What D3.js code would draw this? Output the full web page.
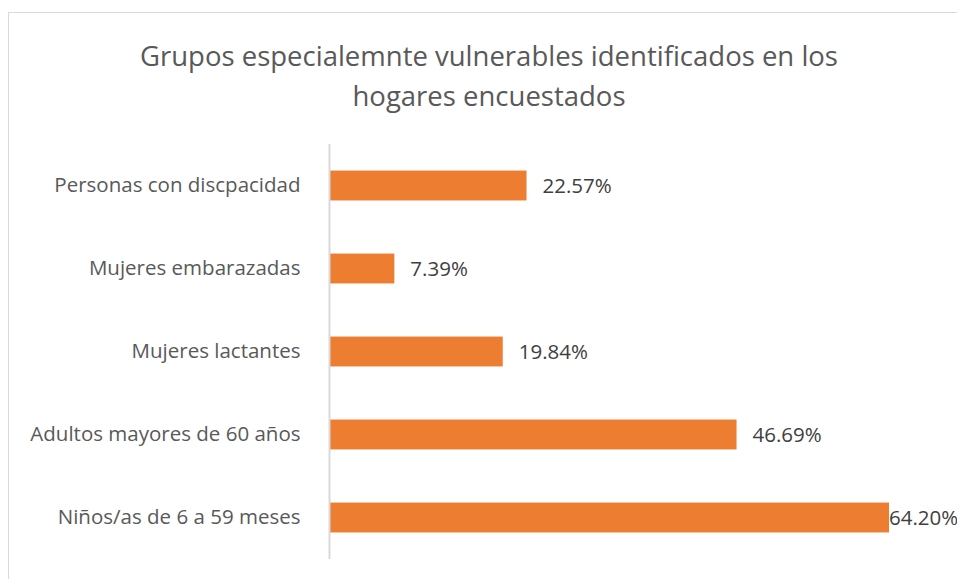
<!DOCTYPE html>
<html>
<head>
<meta charset="utf-8">
<script src="https://cdn.jsdelivr.net/npm/d3@7"></script>
<style>
  body { margin: 0; background: #fff; }
  svg { display: block; font-family: "Open Sans", sans-serif; }
</style>
</head>
<body>
<svg width="957" height="579"></svg>
<script>
// chart data, top to bottom
var categories = ['Personas con discpacidad', 'Mujeres embarazadas', 'Mujeres lactantes',
    'Adultos mayores de 60 años', 'Niños/as de 6 a 59 meses'];
var values = [22.57, 7.39, 19.84, 46.69, 64.20];
var titleLines = ['Grupos especialemnte vulnerables identificados en los', 'hogares encuestados'];

var data = categories.map(function(c, i) { return {cat: c, val: values[i]}; });

var svg = d3.select('svg');
var svgWidth = +svg.attr('width');
var svgHeight = +svg.attr('height');

// chart area border (runs off the right / bottom edge)
svg.append('rect')
    .attr('x', 8.5).attr('y', 12.5)
    .attr('width', svgWidth + 20).attr('height', svgHeight + 20)
    .attr('fill', 'none')
    .attr('stroke', '#d9d9d9')
    .attr('stroke-width', 1);

// title
svg.append('text')
    .attr('text-anchor', 'middle')
    .style('font-size', '27.5px')
    .attr('fill', '#595959')
    .selectAll('tspan')
    .data(titleLines)
    .enter().append('tspan')
    .attr('x', 489)
    .attr('y', function(d, i) { return 66 + i * 40; })
    .text(function(d) { return d; });

var padding = {t: 144, l: 330, b: 20};
var plotHeight = 415;

var xScale = d3.scaleLinear()
    .domain([0, 64.20])
    .range([padding.l, 889]);

var yScale = d3.scaleBand()
    .domain(categories)
    .range([padding.t, padding.t + plotHeight])
    .paddingInner(0.64)
    .paddingOuter(0.32);

// bars
svg.selectAll('.bar')
    .data(data)
    .enter().append('rect')
    .attr('class', 'bar')
    .attr('x', xScale(0))
    .attr('y', function(d) { return yScale(d.cat); })
    .attr('width', function(d) { return xScale(d.val) - xScale(0); })
    .attr('height', yScale.bandwidth())
    .attr('fill', '#ed7d31');

// category axis
var axisLeft = d3.axisLeft(yScale).tickSize(0).tickPadding(29);
var axisG = svg.append('g')
    .attr('transform', 'translate(' + (padding.l - 0.5) + ',0)')
    .call(axisLeft);
axisG.select('.domain')
    .attr('d', 'M0,' + padding.t + 'V' + (padding.t + plotHeight))
    .attr('stroke', '#d9d9d9')
    .attr('stroke-width', 2);
axisG.selectAll('text')
    .style('font-size', '20.5px')
    .style('font-family', '"Open Sans", sans-serif')
    .attr('fill', '#595959');

// value labels
svg.selectAll('.label')
    .data(data)
    .enter().append('text')
    .attr('class', 'label')
    .attr('x', function(d) {
        var x = xScale(d.val) + 16;
        return Math.min(x, 889);
    })
    .attr('y', function(d) { return yScale(d.cat) + yScale.bandwidth() / 2; })
    .attr('dy', '0.35em')
    .style('font-size', '20.5px')
    .attr('fill', '#404040')
    .text(function(d) { return d.val.toFixed(2) + '%'; });
</script>
</body>
</html>
